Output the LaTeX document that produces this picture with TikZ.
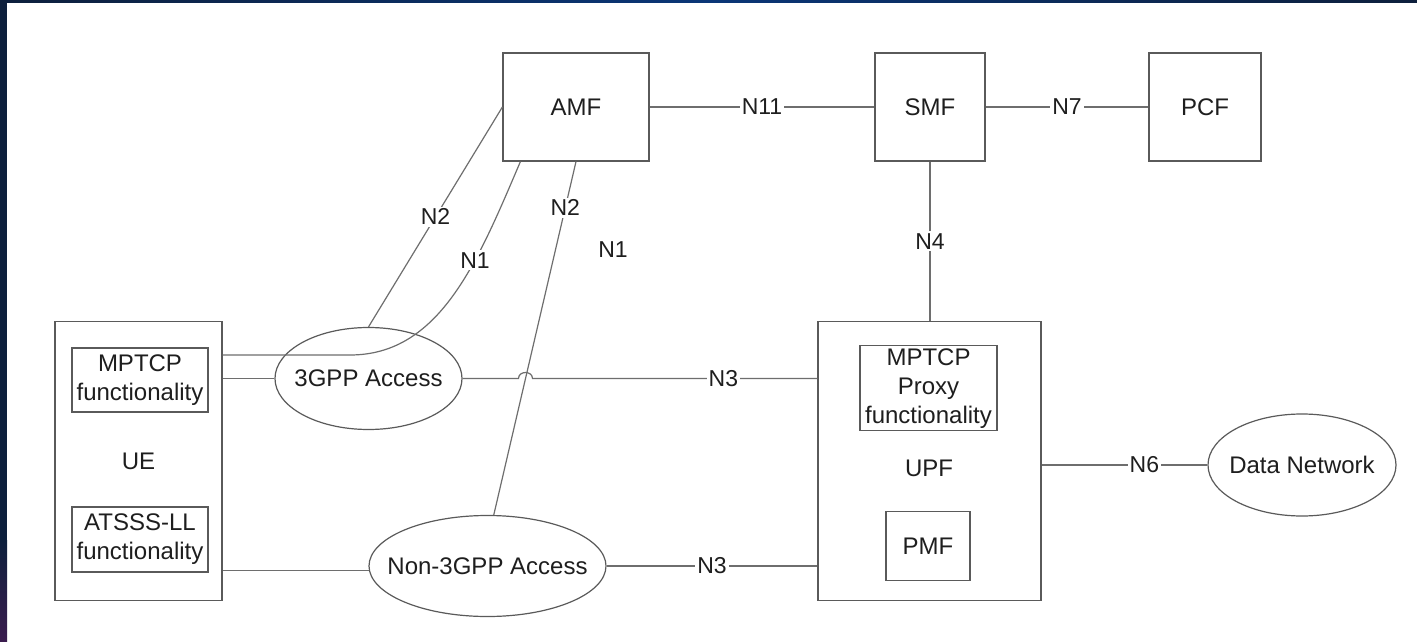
\documentclass[tikz,border=0pt]{standalone}
\usepackage{fontspec}
\setmainfont{Liberation Sans}
\usetikzlibrary{shapes.geometric,calc}
\definecolor{framedark}{HTML}{0D1F3C}
\definecolor{frameblue}{HTML}{0A3677}
\definecolor{framepurple}{HTML}{3B1C4E}
\definecolor{linegray}{HTML}{6E6E6E}
\definecolor{boxgray}{HTML}{5A5A5A}
\definecolor{inkdark}{HTML}{1E1E1E}
\begin{document}
\begin{tikzpicture}[x=1pt,y=-1pt,
  nf/.style={draw=boxgray,line width=1.2pt,rectangle,inner sep=0pt,text=inkdark,
             font=\fontsize{24}{29}\selectfont,align=center},
  cloud/.style={draw=boxgray,line width=1.2pt,ellipse,inner sep=0pt,text=inkdark,
                font=\fontsize{24}{29}\selectfont},
  link/.style={draw=linegray,line width=1.2pt},
  lbl/.style={fill=white,inner sep=2pt,text=inkdark,font=\fontsize{23}{27}\selectfont},
  plain/.style={inner sep=0pt,text=inkdark,font=\fontsize{24}{29}\selectfont}
]
\useasboundingbox (0,0) rectangle (1417,642);
\fill[white] (0,0) rectangle (1417,642);
% frame bands along the top and left edges
\shade[left color=framedark, right color=framedark, middle color=frameblue] (0,0) rectangle (1417,3);
\fill[framedark] (0,0) rectangle (7,540);
\shade[top color=framedark, bottom color=framepurple] (0,540) rectangle (7,642);

% core network functions
\node[nf,minimum width=146,minimum height=108] (amf) at (576,107) {AMF};
\node[nf,minimum width=110,minimum height=108] (smf) at (930,107) {SMF};
\node[nf,minimum width=112,minimum height=108] (pcf) at (1205,107) {PCF};

% UE with its functions
\node[nf,minimum width=167,minimum height=279] (ue) at (138.5,461) {UE};
\node[nf,minimum width=136,minimum height=64] (mptcp) at (140,380) {MPTCP\\functionality};
\node[nf,minimum width=136,minimum height=65] (atsss) at (140,539.5) {ATSSS-LL\\functionality};

% UPF with its functions
\node[nf,minimum width=223,minimum height=279] (upf) at (929.5,461) {};
\node[plain] (upflbl) at (929,468) {UPF};
\node[nf,minimum width=137,minimum height=85] (proxy) at (928.5,388.3) {MPTCP\\Proxy\\functionality};
\node[nf,minimum width=84,minimum height=69] (pmf) at (928,546) {PMF};

% access networks and data network
\node[cloud,minimum width=187,minimum height=102] (acc3) at (368.5,378.5) {\makebox[0pt]{3GPP Access}};
\node[cloud,minimum width=237,minimum height=101] (acc4) at (487.5,566) {\makebox[0pt]{Non-3GPP Access}};
\node[cloud,minimum width=188,minimum height=102] (dn) at (1302,465) {\makebox[0pt]{Data Network}};

% helper points
\coordinate (n1bend) at (350,355);
\coordinate (hopL) at (518.5,378.5);
\coordinate (hopR) at (532.5,378.5);

% reference points
\draw[link] (amf.east) -- node[lbl]{N11} (smf.west);
\draw[link] (smf.east) -- node[lbl]{N7} (pcf.west);
\draw[link] (smf.south) -- node[lbl]{N4} (smf.south |- upf.north);
\draw[link] (upf.east |- dn.west) -- node[lbl,pos=0.62]{N6} (dn.west);

\draw[link] (ue.east |- acc3.west) -- (acc3.west);
\draw[link] (ue.east |- acc4.182) -- (acc4.182);
\draw[link] (acc4.east) -- node[lbl]{N3} (upf.west |- acc4.east);
\draw[link] (acc3.east) -- (hopL)
  .. controls ($(hopL)+(0,-8)$) and ($(hopR)+(0,-8)$) .. (hopR)
  -- node[lbl,pos=0.67]{N3} (upf.west |- acc3.east);

\draw[link] (acc3.north) -- node[lbl]{N2} (amf.west);
\draw[link] (amf.south) -- node[lbl,pos=0.13]{N2} (acc4.83);
\draw[link] (ue.east |- n1bend) -- (n1bend)
  .. controls (440,355) and (478,261) .. node[lbl,pos=0.65]{N1} ($(amf.south west)+(18,0)$);
\node[lbl] (n1free) at (613,250) {N1};
\end{tikzpicture}
\end{document}
